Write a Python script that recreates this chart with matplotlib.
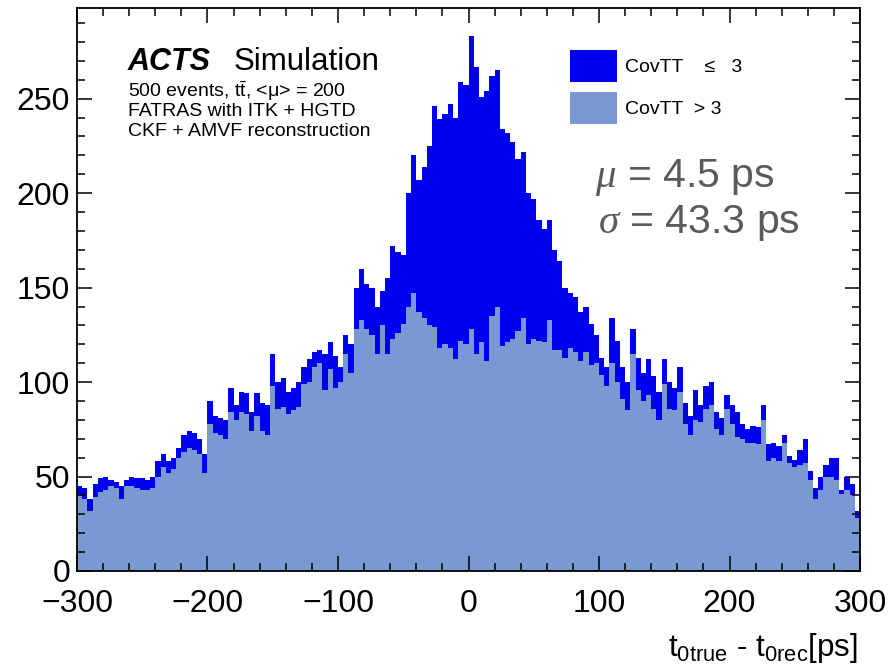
import numpy as np
import matplotlib
matplotlib.use("Agg")
import matplotlib.pyplot as plt
from matplotlib.ticker import MultipleLocator
from matplotlib.patches import Patch

plt.rcParams['font.family'] = ['Liberation Sans', 'DejaVu Sans']
plt.rcParams['mathtext.fontset'] = 'custom'
plt.rcParams['mathtext.rm'] = 'Liberation Sans'
plt.rcParams['mathtext.it'] = 'Liberation Serif:italic'
plt.rcParams['mathtext.bf'] = 'Liberation Sans:bold'
plt.rcParams['axes.unicode_minus'] = True

# ---------------- data ----------------
x_min, x_max, n_bins = -300, 300, 150

# counts per 4 ps bin, CovTT > 3 (light, bottom of the stack)
covtt_gt3 = [
    40, 38, 32, 39, 42, 43, 45, 44, 38, 45,
    45, 44, 43, 43, 44, 50, 55, 52, 54, 60,
    63, 65, 64, 62, 52, 78, 73, 72, 70, 84,
    80, 84, 83, 74, 82, 74, 72, 98, 86, 87,
    83, 85, 87, 99, 100, 108, 110, 96, 107, 97,
    100, 115, 105, 128, 133, 128, 125, 115, 130, 115,
    123, 126, 131, 140, 147, 137, 134, 130, 129, 118,
    120, 118, 112, 122, 120, 128, 115, 121, 111, 135,
    140, 119, 121, 123, 127, 134, 120, 123, 122, 121,
    133, 117, 117, 113, 118, 116, 111, 116, 109, 110,
    104, 98, 110, 100, 91, 85, 115, 96, 90, 93,
    86, 80, 99, 86, 85, 95, 78, 72, 80, 79,
    86, 88, 75, 72, 86, 78, 71, 70, 68, 68,
    67, 80, 58, 60, 58, 68, 57, 55, 56, 57,
    48, 38, 43, 50, 50, 48, 41, 43, 40, 28,
]

# counts per 4 ps bin, CovTT <= 3 (dark, stacked on top)
covtt_le3 = [
    5, 6, 6, 7, 7, 7, 3, 3, 7, 3,
    5, 5, 6, 5, 6, 8, 7, 6, 6, 5,
    9, 9, 9, 8, 10, 12, 9, 9, 10, 13,
    8, 11, 11, 10, 12, 15, 16, 17, 14, 15,
    12, 12, 13, 9, 12, 8, 7, 19, 14, 17,
    8, 10, 15, 22, 27, 24, 25, 25, 18, 40,
    49, 43, 36, 60, 73, 70, 80, 95, 117, 121,
    122, 129, 128, 137, 137, 155, 152, 130, 143, 127,
    125, 115, 111, 104, 91, 88, 80, 74, 64, 60,
    53, 53, 47, 37, 29, 29, 26, 24, 22, 15,
    9, 10, 24, 22, 17, 15, 13, 17, 15, 19,
    17, 15, 13, 14, 12, 13, 11, 10, 16, 9,
    12, 12, 9, 9, 7, 10, 13, 8, 7, 9,
    9, 8, 9, 8, 8, 4, 4, 4, 8, 13,
    5, 6, 7, 6, 10, 12, 2, 7, 6, 4,
]

label_le3 = "CovTT    \u2264   3"
label_gt3 = "CovTT  > 3"
mean_text = r"$\mu$ = 4.5 ps"
sigma_text = r"$\sigma$ = 43.3 ps"
x_title = r"$\mathregular{t_{0true}}$ - $\mathregular{t_{0rec}}$[ps]"

color_le3 = "#0000f0"
color_gt3 = "#7a98d2"

# ---------------- plot ----------------
edges = np.linspace(x_min, x_max, n_bins + 1)
centers = 0.5 * (edges[:-1] + edges[1:])

fig = plt.figure(figsize=(8.91, 6.70), dpi=100)
ax = fig.add_axes([77 / 891, 99 / 670, 783 / 891, 563 / 670])

ax.hist([centers, centers], bins=edges,
        weights=[np.array(covtt_gt3, float), np.array(covtt_le3, float)],
        stacked=True, histtype='stepfilled',
        color=[color_gt3, color_le3], linewidth=0)

ax.set_xlim(x_min, x_max)
ax.set_ylim(0, 298)

ax.xaxis.set_major_locator(MultipleLocator(100))
ax.xaxis.set_minor_locator(MultipleLocator(20))
ax.yaxis.set_major_locator(MultipleLocator(50))
ax.yaxis.set_minor_locator(MultipleLocator(10))
ax.tick_params(which='both', direction='in', top=True, right=True,
               width=1.1, color='black')
ax.tick_params(which='major', length=11, labelsize=23)
ax.tick_params(which='minor', length=5.5)
ax.tick_params(axis='x', which='major', pad=13)
ax.tick_params(axis='y', which='major', pad=5)
for s in ax.spines.values():
    s.set_linewidth(1.3)

# legend
handles = [Patch(facecolor=color_le3, edgecolor='none', label=label_le3),
           Patch(facecolor=color_gt3, edgecolor='none', label=label_gt3)]
ax.legend(handles=handles, loc='upper left',
          bbox_to_anchor=(570 / 891, 1 - 50 / 670), bbox_transform=fig.transFigure,
          frameon=False, fontsize=14, handlelength=2.42, handleheight=2.15,
          handletextpad=0.41, labelspacing=0.51, borderpad=0, borderaxespad=0)

# texts
fig.text(128 / 891, 1 - 62 / 670, "ACTS", fontsize=22, fontweight='bold',
         fontstyle='italic', va='center', ha='left')
fig.text(234 / 891, 1 - 62 / 670, "Simulation", fontsize=22.5, va='center', ha='left')
fig.text(128 / 891, 1 - 91 / 670, "500 events, $\\mathregular{t\\bar{t}}$, <\u03bc> = 200",
         fontsize=14, va='center', ha='left')
fig.text(128 / 891, 1 - 111 / 670, "FATRAS with ITK + HGTD",
         fontsize=14, va='center', ha='left')
fig.text(128 / 891, 1 - 132 / 670, "CKF + AMVF reconstruction",
         fontsize=14, va='center', ha='left')

fig.text(595 / 891, 1 - 187 / 670, mean_text, fontsize=29.5, color='#5a5a5a',
         va='baseline', ha='left')
fig.text(598 / 891, 1 - 233 / 670, sigma_text, fontsize=29.5, color='#5a5a5a',
         va='baseline', ha='left')

fig.text(858 / 891, 1 - 648 / 670, x_title, fontsize=22.5, va='center', ha='right')

fig.savefig("out.png", dpi=100)
